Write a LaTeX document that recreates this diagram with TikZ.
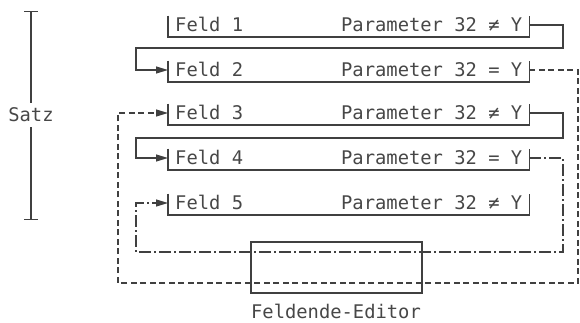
\documentclass[tikz,border=0pt]{standalone}
\usepackage{fontspec}
\setmainfont{DejaVu Sans Mono}
\usetikzlibrary{arrows.meta}
\begin{document}
\begin{tikzpicture}[x=1pt,y=-1pt,
  font=\fontsize{18.8}{22}\selectfont,
  ink/.style={black!75, line width=1.2pt},
  txt/.style={text=black!72, execute at begin node={\spaceskip=11.3pt\relax}},
  field/.style={txt, anchor=south west, inner xsep=7pt, inner ysep=1pt,
    text width=347pt, text height=15pt, text depth=4pt, align=left},
  bracket/.style={ink, line join=miter},
  loopsolid/.style={ink, -{Triangle[length=12pt,width=7pt]}},
  loopdashed/.style={ink, line width=1.1pt, dash pattern=on 6pt off 3.5pt,
    -{Triangle[length=12pt,width=7pt,sep=0pt]}},
  loopdashdot/.style={ink, line width=1.1pt,
    dash pattern=on 12pt off 3pt on 2pt off 3pt,
    -{Triangle[length=12pt,width=7pt]}},
  satzbar/.style={ink, -{Bar[width=14pt]}}
]
\useasboundingbox (0,0) rectangle (580,323);

% the five fields of a record
\node[field] (f1) at (168,37)  {Feld 1\hfill Parameter 32 ≠ Y};
\node[field] (f2) at (168,82)  {Feld 2\hfill Parameter 32 = Y};
\node[field] (f3) at (168,125) {Feld 3\hfill Parameter 32 ≠ Y};
\node[field] (f4) at (168,170) {Feld 4\hfill Parameter 32 = Y};
\node[field] (f5) at (168,215) {Feld 5\hfill Parameter 32 ≠ Y};

\foreach \f in {f1,f2,f3,f4,f5}
  \draw[bracket] (\f.north west) -- (\f.south west) -- (\f.south east) -- (\f.north east);

% end-of-field editor
\node[ink, draw, minimum width=171pt, minimum height=51pt, inner sep=0pt] (ed) at (336.5,267.5) {};
\node[txt] (edlabel) at (336,311) {Feldende-Editor};

% transitions between fields
\draw[loopsolid] ([yshift=12pt]f1.south east) -| (563,48) -- (136,48) |- ([yshift=12pt]f2.south west);
\draw[loopdashed] ([yshift=12pt]f2.south east) -| (578,283) -- (118,283) |- ([yshift=12pt]f3.south west);
\draw[loopsolid] ([yshift=12pt]f3.south east) -| (563,138) -- (136,138) |- ([yshift=12pt]f4.south west);
\draw[loopdashdot] ([yshift=12pt]f4.south east) -| (563,252) -- (136,252) |- ([yshift=12pt]f5.south west);

% record extent
\node[txt, inner xsep=2pt, inner ysep=5pt] (satz) at (31,115) {Satz};
\coordinate (satztop) at (31,11);
\coordinate (satzbot) at (31,220);
\draw[satzbar] (satz.north) -- (satztop);
\draw[satzbar] (satz.south) -- (satzbot);
\end{tikzpicture}
\end{document}
